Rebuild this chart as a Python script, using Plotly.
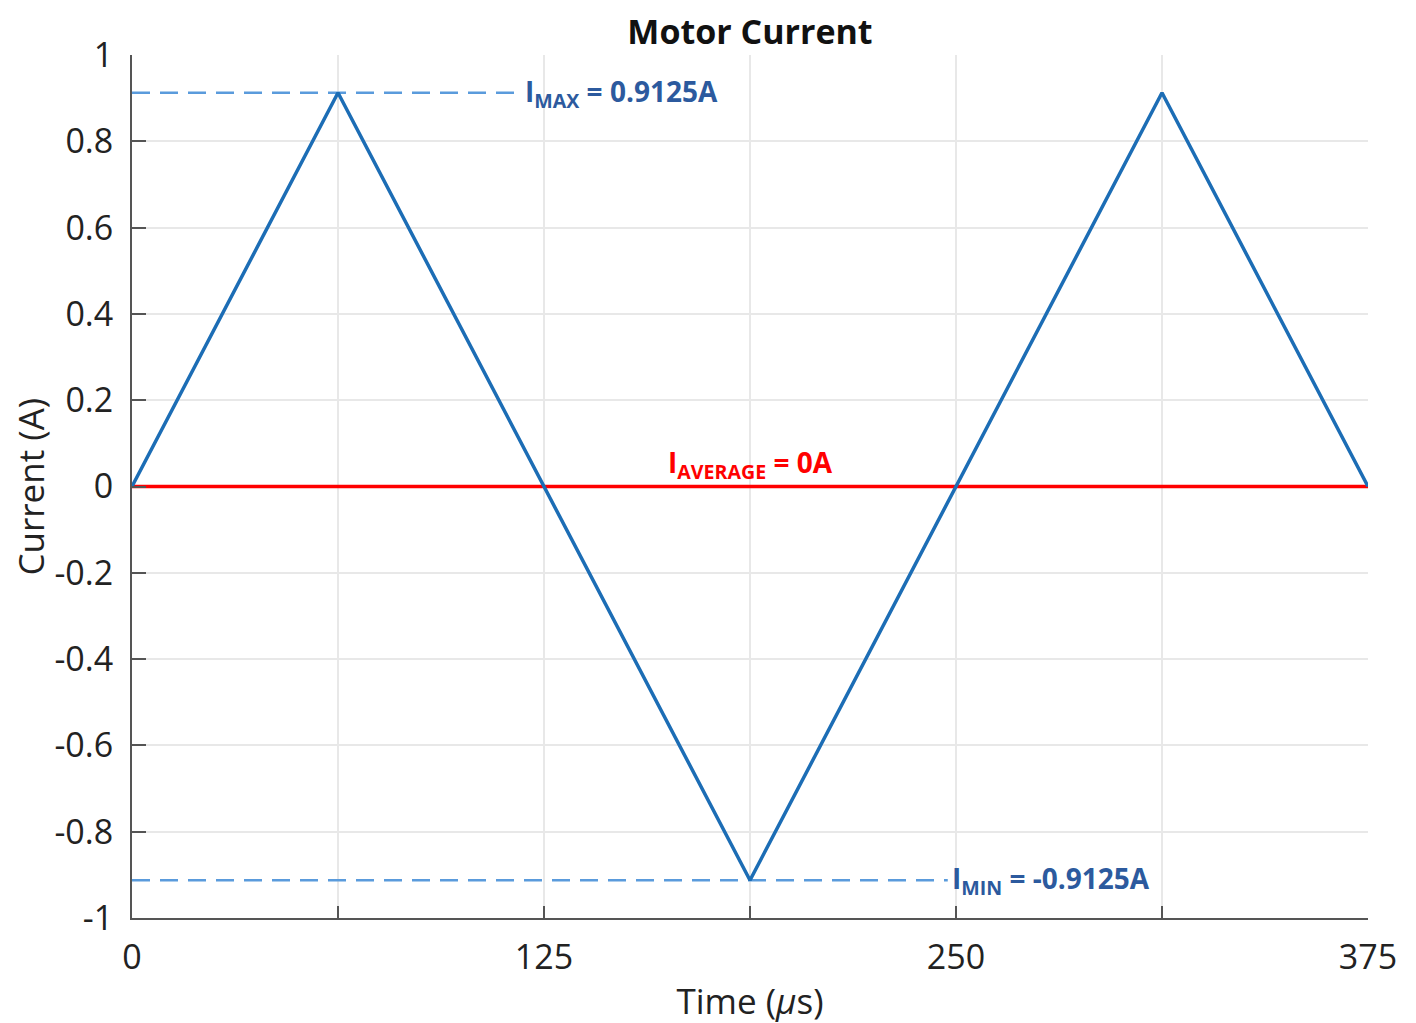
import plotly.graph_objects as go

time_us = [0, 62.5, 187.5, 312.5, 375]
current_a = [0, 0.9125, -0.9125, 0.9125, 0]
i_max = 0.9125
i_min = -0.9125
i_avg = 0
max_dash_x = [0, 117.5]
min_dash_x = [0, 247.5]
x_tickvals = [0, 62.5, 125, 187.5, 250, 312.5, 375]
x_ticktext = ["0", "", "125", "", "250", "", "375"]
y_tickvals = [-1, -0.8, -0.6, -0.4, -0.2, 0, 0.2, 0.4, 0.6, 0.8, 1]
y_ticktext = ["-1", "-0.8", "-0.6", "-0.4", "-0.2", "0", "0.2", "0.4", "0.6", "0.8", "1"]

FONT = "Open Sans"
fig = go.Figure()
fig.add_trace(go.Scatter(x=max_dash_x, y=[i_max, i_max], mode="lines",
                         line=dict(color="#5A9BDC", width=2.5, dash="18px,10px"), showlegend=False))
fig.add_trace(go.Scatter(x=min_dash_x, y=[i_min, i_min], mode="lines",
                         line=dict(color="#5A9BDC", width=2.5, dash="18px,10px"), showlegend=False))
fig.add_trace(go.Scatter(x=[time_us[0], time_us[-1]], y=[i_avg, i_avg], mode="lines",
                         line=dict(color="#FF0000", width=3.5), showlegend=False))
fig.add_trace(go.Scatter(x=time_us, y=current_a, mode="lines",
                         line=dict(color="#1C6DB5", width=3.5), showlegend=False))

fig.add_annotation(x=max_dash_x[1], y=i_max, xref="x", yref="y", xanchor="left", yanchor="middle",
                   text="I<sub>MAX</sub> = 0.9125A", showarrow=False, xshift=4,
                   font=dict(family=FONT, size=28, color="#2C5A9E", weight="bold"))
fig.add_annotation(x=min_dash_x[1], y=i_min, xref="x", yref="y", xanchor="left", yanchor="middle",
                   text="I<sub>MIN</sub> = -0.9125A", showarrow=False, xshift=2,
                   font=dict(family=FONT, size=28, color="#2C5A9E", weight="bold"))
fig.add_annotation(x=187.5, y=i_avg, xref="x", yref="y", xanchor="center", yanchor="bottom",
                   text="I<sub>AVERAGE</sub> = 0A", showarrow=False, yshift=0,
                   font=dict(family=FONT, size=28, color="#FF0000", weight="bold"))
fig.add_annotation(x=0, y=0.5, xref="paper", yref="paper", xanchor="center", yanchor="middle",
                   text="Current (A)", textangle=-90, showarrow=False, xshift=-102, yshift=0,
                   font=dict(family=FONT, size=35, color="#222222"))

fig.update_layout(
    width=1416, height=1023,
    margin=dict(l=124, r=56, t=47, b=113),
    paper_bgcolor="white", plot_bgcolor="white",
    title=dict(text="<b>Motor Current</b>", x=0.5, xref="paper", xanchor="center",
               y=1, yref="paper", yanchor="bottom", pad=dict(b=11),
               font=dict(family=FONT, size=34, color="#111111")),
    font=dict(family=FONT, color="#222222"),
)
fig.update_xaxes(range=[0, 375], tickvals=x_tickvals, ticktext=x_ticktext,
                 ticks="inside", ticklen=12, tickwidth=1.5, tickcolor="#555555",
                 showline=True, linecolor="#555555", linewidth=2,
                 showgrid=True, gridcolor="#E8E8E8", gridwidth=1.5, zeroline=False,
                 tickfont=dict(family=FONT, size=34, color="#222222"), ticklabelstandoff=8,
                 title=dict(text="Time (<i>μ</i>s)", font=dict(family=FONT, size=35, color="#222222"), standoff=12))
fig.update_yaxes(range=[-1, 1], tickvals=y_tickvals, ticktext=y_ticktext,
                 ticks="inside", ticklen=14, tickwidth=1.5, tickcolor="#555555",
                 showline=True, linecolor="#555555", linewidth=2, automargin=False,
                 showgrid=True, gridcolor="#E8E8E8", gridwidth=1.5, zeroline=False,
                 tickfont=dict(family=FONT, size=34, color="#222222"), ticklabelstandoff=10)

fig.write_html("out.html")
